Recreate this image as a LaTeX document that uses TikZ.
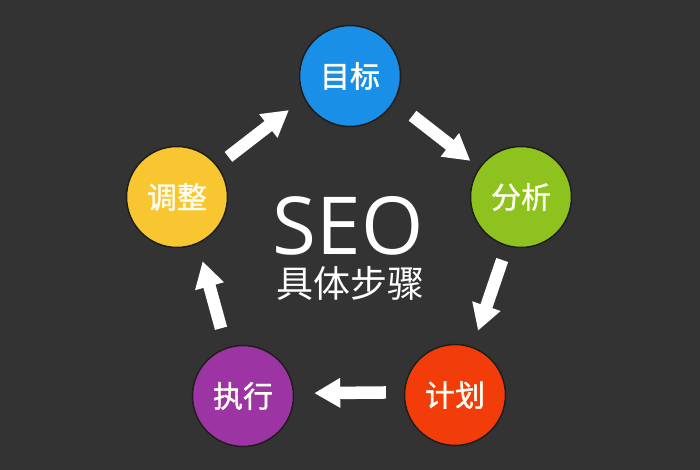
\documentclass[tikz,border=0pt]{standalone}
\usepackage{fontspec}
\setmainfont{Open Sans}
\newfontfamily\cjk{Noto Sans CJK SC}
\newfontfamily\cjkb[FakeBold=1.2]{Noto Sans CJK SC}
\usetikzlibrary{arrows.meta}
\definecolor{bgc}{HTML}{333333}
\definecolor{cblue}{HTML}{1A8FE8}
\definecolor{cgreen}{HTML}{8DC21F}
\definecolor{cred}{HTML}{F23C0A}
\definecolor{cpurple}{HTML}{9C35A3}
\definecolor{cyellow}{HTML}{F7C630}
\definecolor{ring}{HTML}{1E1E1E}
\begin{document}
\begin{tikzpicture}[x=1pt,y=1pt,
  stepcircle/.style={circle,minimum size=101pt,inner sep=0pt,draw=ring,line width=1.5pt,
    text=white!95!yellow,font=\cjkb\fontsize{30}{30}\selectfont},
  flowarrow/.style={draw=white,line width=12.5pt,-{Triangle[width=28pt,length=26pt]}}]
\fill[bgc] (0,0) rectangle (700,470);
\useasboundingbox (0,0) rectangle (700,470);
\node[stepcircle,fill=cblue] (goal) at (350,394) {目标};
\node[stepcircle,fill=cgreen] (analysis) at (521,273) {分析};
\node[stepcircle,fill=cred] (plan) at (455,75) {计划};
\node[stepcircle,fill=cpurple] (exec) at (243,74) {执行};
\node[stepcircle,fill=cyellow] (adjust) at (177,273) {调整};
\node[text=white,font=\fontsize{80}{80}\selectfont,inner sep=0pt,text depth=0pt,anchor=base] (seo) at (348,215) {SEO};
\node[text=white,font=\cjk\fontsize{37}{37}\selectfont,inner sep=0pt,text height=30pt,text depth=3pt,anchor=base] (steps) at (350,172.5) {具体步骤};
\draw[flowarrow,shorten <=14pt,shorten >=19pt] (adjust.38) -- (goal.206.6);
\draw[flowarrow,shorten <=23pt,shorten >=11pt] (goal.-30.4) -- (analysis.145.5);
\draw[flowarrow,shorten <=14.5pt,shorten >=17pt] (analysis.254) -- (plan.70);
\draw[flowarrow,shorten <=18pt,shorten >=20pt] (plan.177.5) -- (exec.3);
\draw[flowarrow,shorten <=20pt,shorten >=18pt] (exec.109) -- (adjust.-66);
\end{tikzpicture}
\end{document}
